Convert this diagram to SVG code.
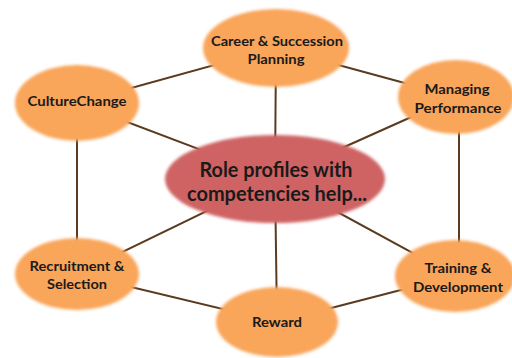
<svg xmlns="http://www.w3.org/2000/svg" width="512" height="358" viewBox="0 0 512 358">
<defs>
<filter id="soft" x="-10%" y="-10%" width="120%" height="120%"><feGaussianBlur stdDeviation="1.6"/></filter>
</defs>
<style>
.con{stroke:#5b3b1f;stroke-width:2;fill:none}
.outer{fill:#f9a55a;filter:url(#soft)}
.core{fill:#cf6464;filter:url(#soft)}
.lbl{font-family:Lato,"Open Sans","Liberation Sans",sans-serif;font-weight:bold;font-size:13px;fill:#1a1a1a;text-anchor:middle}
.big{font-family:Lato,"Open Sans","Liberation Sans",sans-serif;font-weight:bold;font-size:20px;fill:#1a1a1a;text-anchor:middle}
</style>
<rect width="512" height="358" fill="#ffffff"/>
<g id="connectors">
<line class="con" x1="77" y1="103" x2="276" y2="48"/>
<line class="con" x1="276" y1="48" x2="456" y2="97"/>
<line class="con" x1="459" y1="97" x2="459" y2="276"/>
<line class="con" x1="455" y1="276" x2="277" y2="322"/>
<line class="con" x1="277" y1="322" x2="77" y2="274"/>
<line class="con" x1="77" y1="274" x2="77" y2="103"/>
<line class="con" x1="275" y1="178" x2="276" y2="48"/>
<line class="con" x1="275" y1="178" x2="77" y2="103"/>
<line class="con" x1="275" y1="178" x2="456" y2="97"/>
<line class="con" x1="275" y1="178" x2="77" y2="274"/>
<line class="con" x1="275" y1="178" x2="277" y2="322"/>
<line class="con" x1="275" y1="178" x2="455" y2="276"/>
</g>
<g id="career">
<ellipse class="outer" cx="276" cy="48" rx="73" ry="39"/>
<text class="lbl" x="277" y="46" textLength="132" lengthAdjust="spacingAndGlyphs">Career &amp; Succession</text>
<text class="lbl" x="276" y="64" textLength="57" lengthAdjust="spacingAndGlyphs">Planning</text>
</g>
<g id="culture">
<ellipse class="outer" cx="77" cy="103" rx="62" ry="38"/>
<text class="lbl" x="77" y="106" textLength="99" lengthAdjust="spacingAndGlyphs">CultureChange</text>
</g>
<g id="managing">
<ellipse class="outer" cx="456" cy="97" rx="58" ry="37"/>
<text class="lbl" x="457" y="94" textLength="65" lengthAdjust="spacingAndGlyphs">Managing</text>
<text class="lbl" x="458" y="113" textLength="87" lengthAdjust="spacingAndGlyphs">Performance</text>
</g>
<g id="recruitment">
<ellipse class="outer" cx="77" cy="274" rx="62" ry="36"/>
<text class="lbl" x="77" y="271" textLength="95" lengthAdjust="spacingAndGlyphs">Recruitment &amp;</text>
<text class="lbl" x="77" y="289" textLength="60" lengthAdjust="spacingAndGlyphs">Selection</text>
</g>
<g id="reward">
<ellipse class="outer" cx="277" cy="322" rx="61" ry="35"/>
<text class="lbl" x="277" y="327" textLength="50" lengthAdjust="spacingAndGlyphs">Reward</text>
</g>
<g id="training">
<ellipse class="outer" cx="455" cy="276" rx="60" ry="36"/>
<text class="lbl" x="458" y="273" textLength="67" lengthAdjust="spacingAndGlyphs">Training &amp;</text>
<text class="lbl" x="458" y="292" textLength="90" lengthAdjust="spacingAndGlyphs">Development</text>
</g>
<g id="center">
<ellipse class="core" cx="275" cy="179" rx="110" ry="44"/>
<text class="big" x="276" y="177" textLength="153" lengthAdjust="spacingAndGlyphs">Role profiles with</text>
<text class="big" x="277" y="201" textLength="180" lengthAdjust="spacingAndGlyphs">competencies help...</text>
</g>
</svg>
